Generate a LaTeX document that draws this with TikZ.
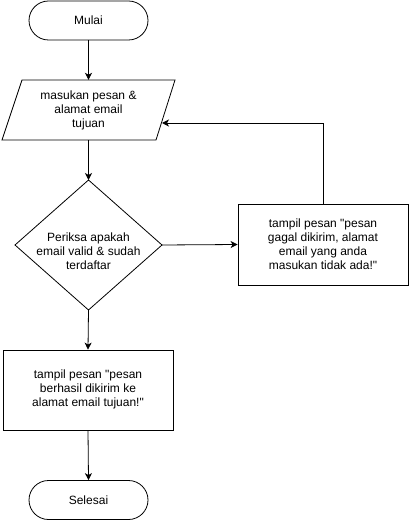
\documentclass[tikz,border=0pt]{standalone}
\usepackage{fontspec}
\setmainfont{Liberation Sans}
\usetikzlibrary{shapes.geometric,arrows.meta}
\begin{document}
\begin{tikzpicture}[x=1pt,y=-1pt,
  every node/.style={font=\fontsize{12}{14}\selectfont, align=center},
  terminal/.style={draw, line width=0.8pt, rectangle, rounded corners=19.5pt, minimum width=119pt, minimum height=39pt, inner sep=0pt},
  procbox/.style={draw, line width=0.8pt, rectangle, minimum width=170pt, minimum height=80pt, inner sep=0pt},
  flow/.style={line width=0.8pt, -{Stealth[length=7pt,width=7pt,inset=2pt]}}
]
\useasboundingbox (0,0) rectangle (409,521);
\node[terminal] (mulai) at (88.5,20.5) {Mulai};
% parallelogram
\draw[line width=0.8pt] (22,80) -- (175,80) -- (156,140) -- (2,140) -- cycle;
\node[minimum width=150pt, minimum height=60pt, inner sep=0pt] (input) at (88.5,110) {masukan pesan \&\\alamat email\\tujuan};
\coordinate (inright) at (162,123);
% decision diamond
\draw[line width=0.8pt] (88.5,180) -- (162,245) -- (88.5,310) -- (15,245) -- cycle;
\coordinate (cektop) at (88.5,180);
\coordinate (cekright) at (162,245);
\coordinate (cekbottom) at (88.5,310);
\node[inner sep=0pt] (cek) at (88.5,251) {Periksa apakah\\email valid \& sudah\\terdaftar};
\node[procbox, minimum height=81pt] (gagal) at (323,244.5) {tampil pesan \textquotedbl pesan\\gagal dikirim, alamat\\email yang anda\\masukan tidak ada!\textquotedbl};
\node[procbox] (berhasil) at (88,390) {\raisebox{-2pt}{\begin{tabular}{@{}c@{}}tampil pesan \textquotedbl pesan\\berhasil dikirim ke\\alamat email tujuan!\textquotedbl\end{tabular}}};
\node[terminal] (selesai) at (88.5,500) {Selesai};
\draw[flow] (mulai.south) -- (input.north);
\draw[flow] (input.south) -- (cektop);
\draw[flow] (cekright) -- (gagal.west);
\draw[flow] (gagal.north) |- (inright);
\draw[flow] (cekbottom) -- (berhasil.north);
\draw[flow] (berhasil.south) -- (selesai.north);
\end{tikzpicture}
\end{document}
